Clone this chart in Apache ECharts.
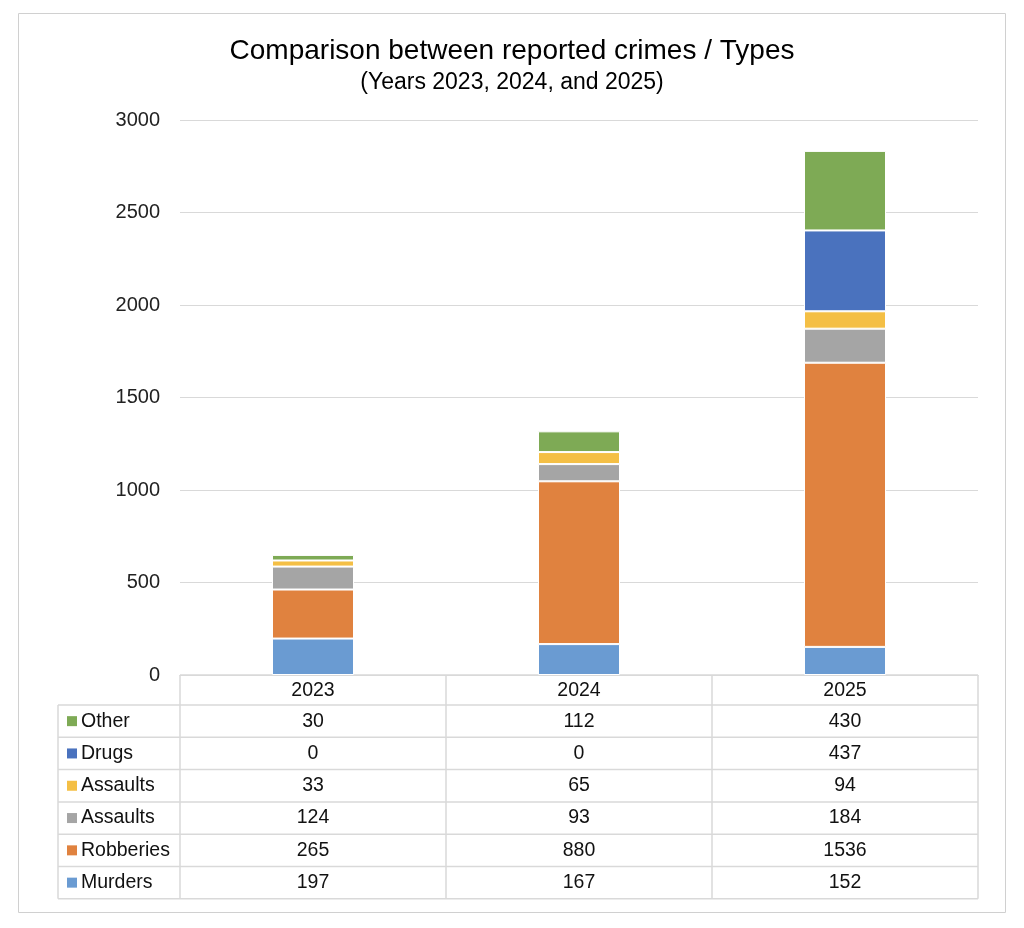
<!DOCTYPE html>
<html><head><meta charset="utf-8">
<script src="https://cdn.jsdelivr.net/npm/echarts@6/dist/echarts.min.js"></script>
<style>html,body{margin:0;padding:0;background:#fff}#c{width:1024px;height:928px}</style>
</head><body><div id="c"></div>
<script>
var years = ['2023', '2024', '2025'];
var seriesNames = ['Murders', 'Robberies', 'Assaults', 'Assaults', 'Drugs', 'Other'];
var murders = [197, 167, 152];
var robberies = [265, 880, 1536];
var assaultsGray = [124, 93, 184];
var assaultsYellow = [33, 65, 94];
var drugs = [0, 0, 437];
var other = [30, 112, 430];
var yTicks = [0, 500, 1000, 1500, 2000, 2500, 3000];
var colors = ['#6A9BD2', '#E0823F', '#A5A5A5', '#F4BF45', '#4A72BE', '#7EAA55'];
var allData = [murders, robberies, assaultsGray, assaultsYellow, drugs, other];

var FONT = '"Liberation Sans", Arial, sans-serif';
var chart = echarts.init(document.getElementById('c'));
var gridL = 180, gridR = 46, gridT = 120, gridB = 253;

var series = seriesNames.map(function (n, i) {
  return {
    name: n, type: 'bar', stack: 'total', data: allData[i],
    barWidth: 82,
    itemStyle: { color: colors[i], borderColor: '#fff', borderWidth: 1 }
  };
});

chart.setOption({
  animation: false,
  title: {
    text: 'Comparison between reported crimes / Types',
    subtext: '(Years 2023, 2024, and 2025)',
    left: 'center', top: 32, itemGap: 6,
    textStyle: { fontFamily: FONT, fontSize: 28, fontWeight: 'normal', color: '#000' },
    subtextStyle: { fontFamily: FONT, fontSize: 23, color: '#000' }
  },
  grid: { left: gridL, right: gridR, top: gridT, bottom: gridB },
  xAxis: {
    type: 'category', data: years,
    axisLine: { show: true, lineStyle: { color: '#d9d9d9' } },
    axisTick: { show: false }, axisLabel: { show: false }
  },
  yAxis: {
    type: 'value', min: yTicks[0], max: yTicks[yTicks.length - 1], interval: 500,
    axisLine: { show: false }, axisTick: { show: false },
    axisLabel: { fontFamily: FONT, fontSize: 20, color: '#222', margin: 20, formatter: function (v) { return String(v); } },
    splitLine: { lineStyle: { color: '#d9d9d9', width: 1 } }
  },
  series: series
});

// Data table below the chart
var g = [];
g.push({ type: 'rect', shape: { x: 18.5, y: 13.5, width: 987, height: 899 }, style: { fill: 'none', stroke: '#d0d0d0', lineWidth: 1 }, silent: true });
var axisY = chart.convertToPixel({ yAxisIndex: 0 }, 0);
var c0 = chart.convertToPixel({ xAxisIndex: 0 }, years[0]);
var c1 = chart.convertToPixel({ xAxisIndex: 0 }, years[1]);
var band = c1 - c0;
var colEdges = years.map(function (y) { return chart.convertToPixel({ xAxisIndex: 0 }, y) - band / 2; });
colEdges.push(colEdges[colEdges.length - 1] + band);
var rowH = 32.3;
var headTop = axisY, headBot = axisY + 30;
var legLeft = 58;
var tableBot = headBot + rowH * 6;
var lc = '#d9d9d9';
var TS = 19.5;
function line(x1, y1, x2, y2) {
  g.push({ type: 'line', shape: { x1: x1, y1: y1, x2: x2, y2: y2 }, style: { stroke: lc, lineWidth: 1.5 }, silent: true });
}
colEdges.forEach(function (x) { line(x, headTop, x, tableBot); });
line(legLeft, headBot, legLeft, tableBot);
line(colEdges[0], headTop, colEdges[colEdges.length - 1], headTop);
line(legLeft, headBot, colEdges[colEdges.length - 1], headBot);
for (var r = 1; r <= 6; r++) line(legLeft, headBot + rowH * r, colEdges[colEdges.length - 1], headBot + rowH * r);
years.forEach(function (y, j) {
  g.push({ type: 'text', x: (colEdges[j] + colEdges[j + 1]) / 2, y: (headTop + headBot) / 2 + 1,
    style: { text: y, fontFamily: FONT, fontSize: TS, fill: '#111', align: 'center', verticalAlign: 'middle' }, silent: true });
});
for (var k = 0; k < 6; k++) {
  var si = 5 - k;
  var cy = headBot + rowH * k + rowH / 2;
  g.push({ type: 'rect', shape: { x: 67, y: cy - 5, width: 10, height: 10 }, style: { fill: colors[si] }, silent: true });
  g.push({ type: 'text', x: 81, y: cy, style: { text: seriesNames[si], fontFamily: FONT, fontSize: TS, fill: '#111', align: 'left', verticalAlign: 'middle' }, silent: true });
  for (var j = 0; j < years.length; j++) {
    g.push({ type: 'text', x: (colEdges[j] + colEdges[j + 1]) / 2, y: cy,
      style: { text: String(allData[si][j]), fontFamily: FONT, fontSize: TS, fill: '#111', align: 'center', verticalAlign: 'middle' }, silent: true });
  }
}
chart.setOption({ graphic: { elements: g } });
</script>
</body></html>
